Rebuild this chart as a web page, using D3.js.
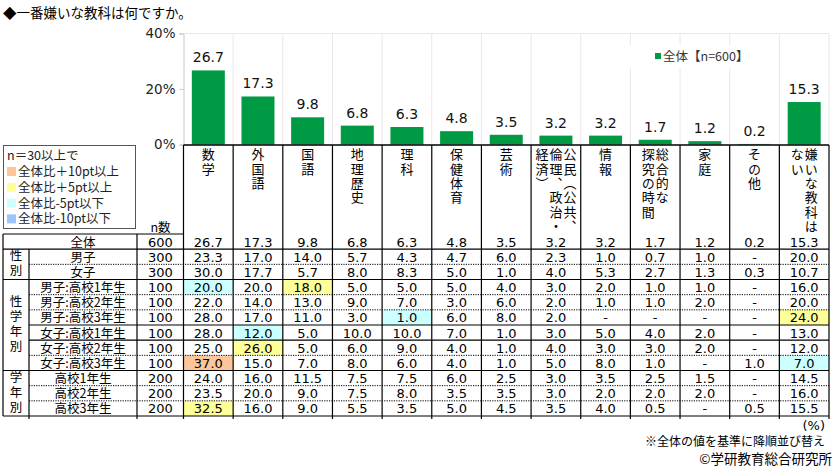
<!DOCTYPE html>
<html>
<head>
<meta charset="utf-8">
<script src="https://cdn.jsdelivr.net/npm/d3@7"></script>
<style>
  body { margin: 0; background: #fff; }
  svg { display: block; }
  .jp { font-family: "Noto Sans CJK JP", sans-serif; }
  .num { font-family: "DejaVu Sans", sans-serif; }
  .vert { writing-mode: vertical-rl; }
</style>
</head>
<body>
<svg id="chart" width="840" height="472"></svg>
<script>
const title = '◆一番嫌いな教科は何ですか。';

/* Category header text, one string per vertical column, right to left */
const categoryLines = [
  ['数学'], ['外国語'], ['国語'], ['地理歴史'], ['理科'], ['保健体育'], ['芸術'],
  ['公民（公共、', '倫理、政治・', '経済）'], ['情報'], ['総合的な', '探究の時間'],
  ['家庭'], ['その他'], ['嫌いな教科は', 'ない']
];
const categories = categoryLines.map(d => d.join(''));

const overall = [26.7, 17.3, 9.8, 6.8, 6.3, 4.8, 3.5, 3.2, 3.2, 1.7, 1.2, 0.2, 15.3];
const yTicks = [0, 20, 40];
const seriesName = '全体【n=600】';

const rowLabels = [
  '全体', '男子', '女子',
  '男子:高校1年生', '男子:高校2年生', '男子:高校3年生',
  '女子:高校1年生', '女子:高校2年生', '女子:高校3年生',
  '高校1年生', '高校2年生', '高校3年生'
];
const rowN = [600, 300, 300, 100, 100, 100, 100, 100, 100, 200, 200, 200];
const rowValues = [
  [26.7, 17.3, 9.8, 6.8, 6.3, 4.8, 3.5, 3.2, 3.2, 1.7, 1.2, 0.2, 15.3],
  [23.3, 17.0, 14.0, 5.7, 4.3, 4.7, 6.0, 2.3, 1.0, 0.7, 1.0, null, 20.0],
  [30.0, 17.7, 5.7, 8.0, 8.3, 5.0, 1.0, 4.0, 5.3, 2.7, 1.3, 0.3, 10.7],
  [20.0, 20.0, 18.0, 5.0, 5.0, 5.0, 4.0, 3.0, 2.0, 1.0, 1.0, null, 16.0],
  [22.0, 14.0, 13.0, 9.0, 7.0, 3.0, 6.0, 2.0, 1.0, 1.0, 2.0, null, 20.0],
  [28.0, 17.0, 11.0, 3.0, 1.0, 6.0, 8.0, 2.0, null, null, null, null, 24.0],
  [28.0, 12.0, 5.0, 10.0, 10.0, 7.0, 1.0, 3.0, 5.0, 4.0, 2.0, null, 13.0],
  [25.0, 26.0, 5.0, 6.0, 9.0, 4.0, 1.0, 4.0, 3.0, 3.0, 2.0, null, 12.0],
  [37.0, 15.0, 7.0, 8.0, 6.0, 4.0, 1.0, 5.0, 8.0, 1.0, null, 1.0, 7.0],
  [24.0, 16.0, 11.5, 7.5, 7.5, 6.0, 2.5, 3.0, 3.5, 2.5, 1.5, null, 14.5],
  [23.5, 20.0, 9.0, 7.5, 8.0, 3.5, 3.5, 3.0, 2.0, 2.0, 2.0, null, 16.0],
  [32.5, 16.0, 9.0, 5.5, 3.5, 5.0, 4.5, 3.5, 4.0, 0.5, null, 0.5, 15.5]
];
const rowGroups = [
  {label: '性別', from: 1, to: 2},
  {label: '性学年別', from: 3, to: 8},
  {label: '学年別', from: 9, to: 11}
];
/* border under each row: 'full' solid from left edge, 'solid' / 'dot' from label column */
const rowBorders = ['full', 'dot', 'full', 'dot', 'dot', 'solid', 'solid', 'dot', 'full', 'dot', 'dot', 'full'];

const highlights = [
  {row: 3, col: 0, level: 'm5'}, {row: 3, col: 2, level: 'p5'},
  {row: 5, col: 4, level: 'm5'}, {row: 5, col: 12, level: 'p5'},
  {row: 6, col: 1, level: 'm5'}, {row: 7, col: 1, level: 'p5'},
  {row: 8, col: 0, level: 'p10'}, {row: 8, col: 12, level: 'm5'},
  {row: 11, col: 0, level: 'p5'}
];
const levelColors = {p10: '#fcc69a', p5: '#ffff99', m5: '#ccffff', m10: '#9cc6fb'};
const legendItems = [
  {level: 'p10', text: '全体比＋10pt以上'},
  {level: 'p5', text: '全体比＋5pt以上'},
  {level: 'm5', text: '全体比-5pt以下'},
  {level: 'm10', text: '全体比-10pt以下'}
];
const footNotes = ['(%)', '※全体の値を基準に降順並び替え', '©学研教育総合研究所'];

let svg = d3.select('#chart');

let x = d3.scaleBand()
    .domain(categories)
    .range([183.5, 829])
    .paddingInner(0)
    .paddingOuter(0);

let y = d3.scaleLinear()
    .domain([0, 40])
    .range([144.5, 33.5]);

let rowY = d3.scaleBand()
    .domain(d3.range(rowLabels.length))
    .range([234, 416]);

let fmt = d3.format('.1f');
let bw = x.bandwidth();
let barW = 33;

/* Title */
svg.append('text')
    .attr('class', 'jp')
    .attr('x', 3)
    .attr('y', 18)
    .style('font-size', '13.5px')
    .attr('fill', '#000')
    .text(title);

/* Plot frame and grid */
let grid = svg.append('g');
grid.selectAll('line.v')
    .data(categories.slice(1).concat(['__end']))
    .join('line')
    .attr('x1', d => d == '__end' ? 829 : x(d))
    .attr('x2', d => d == '__end' ? 829 : x(d))
    .attr('y1', y(40))
    .attr('y2', y(0))
    .attr('stroke', '#e8e8e8');

grid.append('line')
    .attr('x1', x.range()[0]).attr('x2', 829)
    .attr('y1', y(40)).attr('y2', y(40))
    .attr('stroke', '#e8e8e8');

/* Y axis */
let yAxis = d3.axisLeft(y)
    .tickValues(yTicks)
    .tickSize(4)
    .tickFormat(d => d + '%');

let yAxisG = svg.append('g')
    .attr('transform', `translate(${x.range()[0]},0)`)
    .call(yAxis);
yAxisG.select('.domain').attr('stroke', '#c8c8c8');
yAxisG.selectAll('.tick line').attr('stroke', '#c8c8c8');
yAxisG.selectAll('.tick text')
    .attr('class', 'num')
    .attr('x', -8)
    .attr('fill', '#222')
    .style('font-size', '13.5px');

/* Series legend */
let legend = svg.append('g');
legend.append('rect')
    .attr('x', 628).attr('y', 45)
    .attr('width', 130).attr('height', 23)
    .attr('fill', '#fff');
legend.append('rect')
    .attr('x', 655).attr('y', 53)
    .attr('width', 6).attr('height', 6)
    .attr('fill', '#009944');
legend.append('text')
    .attr('class', 'jp')
    .attr('x', 663).attr('y', 61)
    .style('font-size', '12.5px')
    .attr('fill', '#333')
    .text(seriesName);

/* Bars */
svg.append('g')
    .selectAll('rect')
    .data(overall)
    .join('rect')
    .attr('x', (d, i) => x(categories[i]) + (bw - barW) / 2)
    .attr('y', d => y(d))
    .attr('width', barW)
    .attr('height', d => y(0) - y(d))
    .attr('fill', '#009944');

svg.append('g')
    .selectAll('text')
    .data(overall)
    .join('text')
    .attr('class', 'num')
    .attr('x', (d, i) => x(categories[i]) + bw / 2)
    .attr('y', d => y(d) - 8)
    .attr('text-anchor', 'middle')
    .style('font-size', '14px')
    .attr('fill', '#111')
    .text(d => fmt(d));

/* Header: vertical category names, one text per column */
let header = svg.append('g').attr('class', 'jp vert');
categoryLines.forEach((lines, i) => {
  let cx = x(categories[i]) + bw / 2;
  let step = 14;
  header.selectAll(null)
      .data(lines)
      .join('text')
      .attr('x', (line, j) => cx + (lines.length - 1) * step / 2 - j * step)
      .attr('y', 148)
      .style('font-size', '13px')
      .style('letter-spacing', '1.3px')
      .attr('fill', '#000')
      .text(line => line);
});

svg.append('text')
    .attr('class', 'jp')
    .attr('x', 160.5).attr('y', 232)
    .attr('text-anchor', 'middle')
    .style('font-size', '12.5px')
    .text('n数');

/* Left legend box */
let keyG = svg.append('g').attr('class', 'jp');
keyG.append('rect')
    .attr('x', 3.5).attr('y', 145.5)
    .attr('width', 132).attr('height', 83)
    .attr('fill', '#fff')
    .attr('stroke', '#555');
keyG.append('text')
    .attr('x', 7).attr('y', 160)
    .style('font-size', '12.5px')
    .attr('fill', '#222')
    .text('n＝30以上で');
let keyRows = keyG.selectAll('g.item')
    .data(legendItems)
    .join('g')
    .attr('transform', (d, i) => `translate(0,${176 + i * 15.8})`);
keyRows.append('rect')
    .attr('x', 7).attr('y', -9)
    .attr('width', 9).attr('height', 9)
    .attr('fill', d => levelColors[d.level]);
keyRows.append('text')
    .attr('x', 18).attr('y', 0)
    .style('font-size', '12.5px')
    .attr('fill', '#222')
    .text(d => d.text);

/* Table cell highlights */
svg.append('g')
    .selectAll('rect')
    .data(highlights)
    .join('rect')
    .attr('x', d => x(categories[d.col]))
    .attr('y', d => rowY(d.row))
    .attr('width', bw)
    .attr('height', rowY.bandwidth())
    .attr('fill', d => levelColors[d.level]);

/* Table text */
let table = svg.append('g');
let rh = rowY.bandwidth();

table.selectAll('text.label')
    .data(rowLabels)
    .join('text')
    .attr('class', 'jp')
    .attr('x', 83)
    .attr('y', (d, i) => rowY(i) + rh / 2 + 5)
    .attr('text-anchor', 'middle')
    .style('font-size', '12.5px')
    .text(d => d);

table.selectAll('text.n')
    .data(rowN)
    .join('text')
    .attr('class', 'num')
    .attr('x', 160.5)
    .attr('y', (d, i) => rowY(i) + rh / 2 + 5)
    .attr('text-anchor', 'middle')
    .style('font-size', '13px')
    .text(d => d);

rowValues.forEach((vals, r) => {
  table.append('g')
      .selectAll('text')
      .data(vals)
      .join('text')
      .attr('class', 'num')
      .attr('x', (d, c) => x(categories[c]) + bw / 2)
      .attr('y', rowY(r) + rh / 2 + 5)
      .attr('text-anchor', 'middle')
      .style('font-size', '13px')
      .text(d => d == null ? '-' : fmt(d));
});

/* group labels run vertically down the first column */
table.selectAll('text.group')
    .data(rowGroups)
    .join('text')
    .attr('class', 'jp vert')
    .attr('x', 16)
    .attr('y', g => (rowY(g.from) + rowY(g.to) + rh) / 2)
    .attr('text-anchor', 'middle')
    .style('font-size', '12.5px')
    .style('letter-spacing', '2.5px')
    .text(g => g.label);

/* Table borders */
let borders = svg.append('g')
    .attr('stroke', '#000')
    .attr('stroke-width', 1.2)
    .attr('fill', 'none');

borders.append('line')
    .attr('x1', x.range()[0]).attr('x2', 829)
    .attr('y1', 145).attr('y2', 145)
    .attr('stroke-width', 1.5);
borders.append('line')
    .attr('x1', 3).attr('x2', x.range()[0])
    .attr('y1', 234).attr('y2', 234);

borders.selectAll('line.row')
    .data(rowBorders)
    .join('line')
    .attr('x1', d => d == 'full' ? 3 : 29)
    .attr('x2', 829)
    .attr('y1', (d, i) => rowY(i) + rh)
    .attr('y2', (d, i) => rowY(i) + rh)
    .attr('stroke-dasharray', d => d == 'dot' ? '1.2,1.2' : null)
    .attr('stroke-width', d => d == 'dot' ? 1 : 1.2);

let colEdges = categories.map(c => x(c)).concat([829]);
borders.selectAll('line.col')
    .data(colEdges)
    .join('line')
    .attr('x1', d => d).attr('x2', d => d)
    .attr('y1', 145).attr('y2', 419);

borders.append('line')
    .attr('x1', 137).attr('x2', 137)
    .attr('y1', 234).attr('y2', 419);
borders.append('line')
    .attr('x1', 29).attr('x2', 29)
    .attr('y1', rowY(1)).attr('y2', 419);
borders.append('line')
    .attr('x1', 3).attr('x2', 3)
    .attr('y1', 234).attr('y2', 416);

/* Foot notes */
let foot = svg.append('g').attr('text-anchor', 'end');
foot.append('text')
    .attr('class', 'num')
    .attr('x', 825).attr('y', 430)
    .style('font-size', '13px')
    .text(footNotes[0]);
foot.append('text')
    .attr('class', 'jp')
    .attr('x', 825).attr('y', 446)
    .style('font-size', '12px')
    .text(footNotes[1]);
foot.append('text')
    .attr('class', 'jp')
    .attr('x', 832).attr('y', 464)
    .style('font-size', '13.5px')
    .text(footNotes[2]);
</script>
</body>
</html>
